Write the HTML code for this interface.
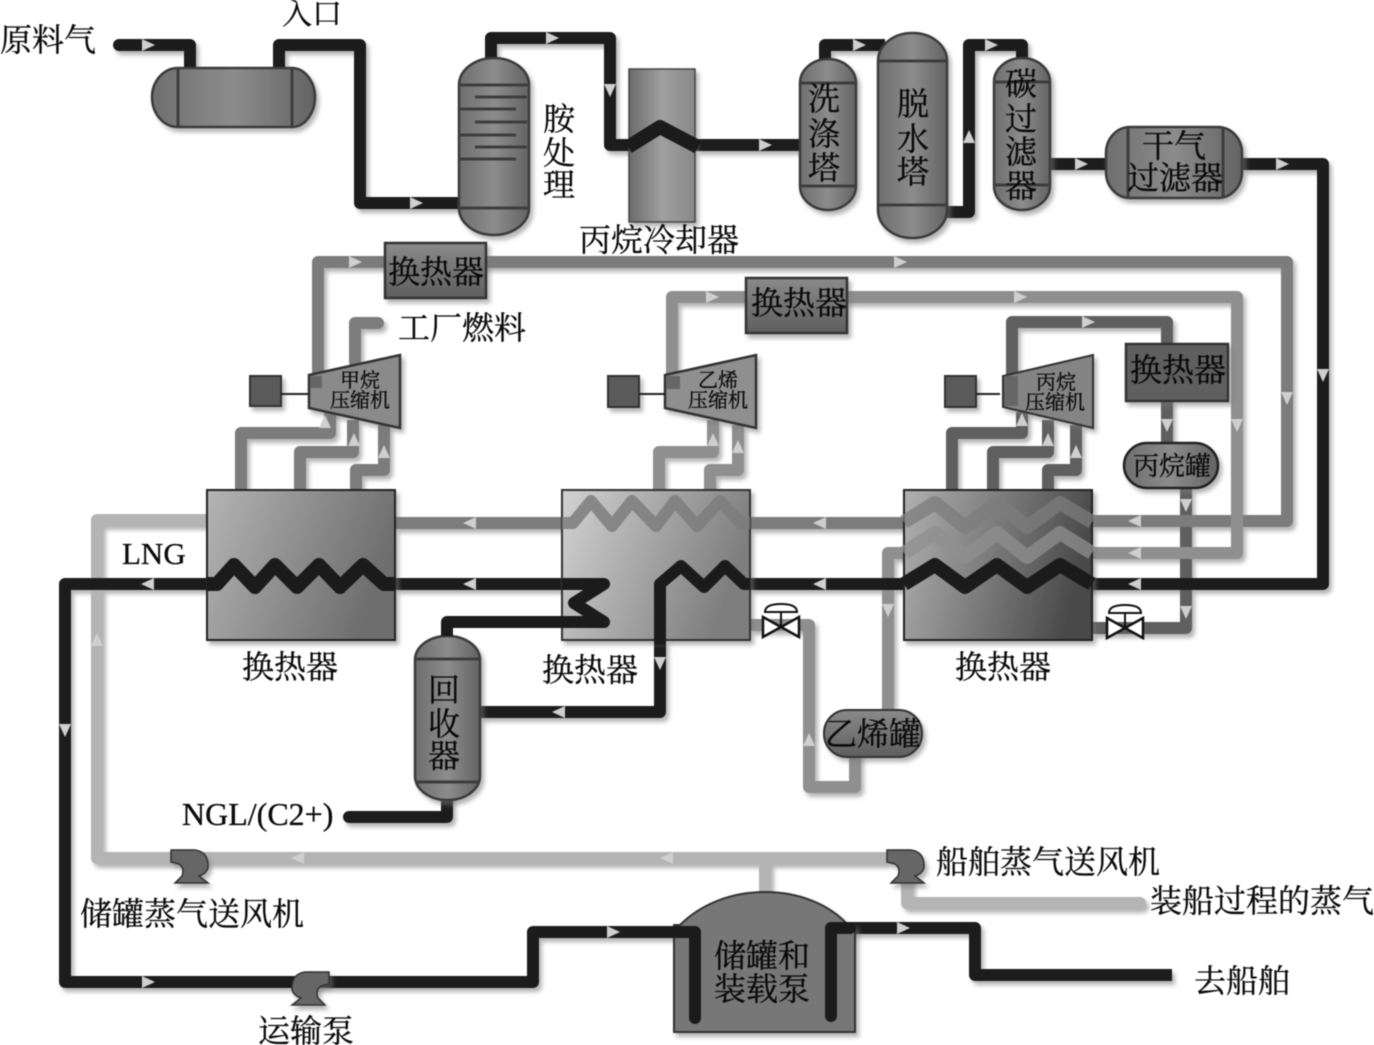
<!DOCTYPE html>
<html lang="zh"><head><meta charset="utf-8"><title>LNG</title>
<style>
html,body{margin:0;padding:0;background:#fff}
svg{display:block;filter:blur(.4px)}
.p{fill:none;stroke-linejoin:round;stroke-linecap:butt;stroke-width:12}
.k{stroke:#1b1b1b}.d{stroke:#5f5f5f}.m{stroke:#7c7c7c}.e{stroke:#8f8f8f}.l{stroke:#b4b4b4}
.r{stroke-linecap:round}
.w14{stroke-width:14}
text{font-family:"Liberation Serif","Noto Serif CJK SC",serif;fill:#0a0a0a;stroke:#000;stroke-width:.3}
.t32{font-size:32px}.t20{font-size:20px;fill:#151515;stroke-width:.15}
.v{stroke:#3a3a3a;stroke-width:2.5}
.ln{stroke:#3d3d3d;stroke-width:3;fill:none}
</style></head><body>
<svg width="1374" height="1045" viewBox="0 0 1374 1045" xmlns="http://www.w3.org/2000/svg">
<defs>
<filter id="s" x="-10%" y="-10%" width="120%" height="120%"><feDropShadow dx="3" dy="4" stdDeviation="2" flood-color="#777" flood-opacity=".55"/></filter>
<linearGradient id="gv"><stop offset="0" stop-color="#6e6e6e"/><stop offset=".5" stop-color="#8c8c8c"/><stop offset="1" stop-color="#636363"/></linearGradient>
<linearGradient id="gc"><stop offset="0" stop-color="#6a6a6a"/><stop offset=".5" stop-color="#a0a0a0"/><stop offset="1" stop-color="#888"/></linearGradient>
<linearGradient id="h1" x2="1" y2=".3"><stop offset="0" stop-color="#b4b4b4"/><stop offset="1" stop-color="#6e6e6e"/></linearGradient>
<linearGradient id="h2" x2="1" y2=".3"><stop offset="0" stop-color="#d2d2d2"/><stop offset="1" stop-color="#7e7e7e"/></linearGradient>
<linearGradient id="h3" x2="1" y2=".2"><stop offset="0" stop-color="#b0b0b0"/><stop offset="1" stop-color="#4a4a4a"/></linearGradient>
<linearGradient id="gt" x2="0" y2="1"><stop offset="0" stop-color="#8a8a8a"/><stop offset="1" stop-color="#5e5e5e"/></linearGradient>
<polygon id="a" points="-6,-6 7,0 -6,6" fill="#cfcfcf"/>
<g id="valve"><path d="M-18,-4 L18,16 V-4 L-18,16Z" fill="#fff" stroke="#111" stroke-width="2.5"/><path d="M0,-9 V6" stroke="#111" stroke-width="2"/><path d="M-16,-9 Q-16,-17 0,-17 Q16,-17 16,-9Z" fill="#fff" stroke="#111" stroke-width="2"/></g>
<path id="fan" d="M0,0 H24 Q38,2 37,18 Q35,24 28,26 L37,33 H4 L11,26 Q14,18 8,14 L0,12Z" fill="#666" stroke="#333" stroke-width="1.5"/>
</defs>

<g filter="url(#s)">
<path class="p d" d="M1186,488V628H1092"/>
<path class="p l" d="M207,520H97V858H887M765,858V895"/>
<path class="p l r" d="M907,880V903H1140"/>
<path class="p m" d="M395,523H562M750,523H904"/>
<path class="p e" d="M750,625H809V787H855V750"/>
<path class="p e" d="M888,715V553H904"/>
<path class="p m" d="M1092,521H1287V262H318V380"/>
<path class="p e" d="M1092,553H1237V297H672V380"/>
<path class="p d" d="M1012,380V322H1167V345M1167,400V445"/>
<path class="p m" d="M241,490V433H330V410M300,490V452H353V420M356,490V470H384V425"/>
<path class="p m r" d="M355,362V323H378"/>
<path class="p e" d="M659,490V452H713V420M710,490V470H738V425"/>
<path class="p d" d="M952,490V433H1022V412M993,490V452H1048V420M1048,490V470H1076V425"/>
<path class="p k r" d="M119,45H190V70"/>
<path class="p k" d="M279,70V45H360V203H462"/>
<path class="p k" d="M491,60V38H610V145H632"/>
<path class="p k" d="M696,145H803"/>
<path class="p k" d="M825,62V45H885M947,212H969V45H1022V62"/>
<path class="p k" d="M1050,164H1108M1242,164H1323V584H750"/>
<path class="p k" d="M395,584H562M207,584H65V982H533V932H690"/>
<path class="p k" d="M480,712H660V640"/>
<path class="p k r" d="M349,817H447V798"/>
<path class="p k" d="M835,928H975V975H1172"/>
</g>

<g filter="url(#s)">
<path d="M178,68H292C305,68 315,82 315,97C315,113 305,127 292,127H178C163,127 152,113 152,97C152,82 163,68 178,68Z" fill="url(#gv)" class="v"/>
<path class="ln" d="M178,68V127M292,68V127"/>
<rect x="459" y="58" width="70" height="177" rx="35" ry="27" fill="url(#gv)" class="v"/>
<rect x="629" y="69" width="66" height="153" fill="url(#gc)" stroke="#444" stroke-width="1.5"/>
<rect x="800" y="59" width="56" height="151" rx="28" ry="24" fill="url(#gv)" class="v"/>
<rect x="878" y="33" width="69" height="205" rx="34" ry="28" fill="url(#gv)" class="v"/>
<rect x="994" y="58" width="56" height="152" rx="28" ry="24" fill="url(#gv)" class="v"/>
<rect x="1106" y="127" width="136" height="71" rx="24" ry="26" fill="url(#gv)" class="v"/>
<rect x="385" y="243" width="101" height="55" fill="url(#gt)" stroke="#333" stroke-width="2.5"/>
<rect x="746" y="278" width="101" height="55" fill="url(#gt)" stroke="#333" stroke-width="2.5"/>
<rect x="1126" y="344" width="102" height="57" fill="#5f5f5f" stroke="#333" stroke-width="2.5"/>
<rect x="1124" y="443" width="94" height="45" rx="23" fill="url(#gv)" stroke="#222" stroke-width="2.5"/>
<rect x="824" y="710" width="98" height="47" rx="23" fill="url(#gt)" stroke="#333" stroke-width="2"/>
<rect x="415" y="636" width="65" height="164" rx="32" ry="24" fill="url(#gv)" class="v"/>
<rect x="207" y="490" width="188" height="150" fill="url(#h1)" stroke="#222" stroke-width="2"/>
<rect x="562" y="490" width="188" height="150" fill="url(#h2)" stroke="#333" stroke-width="2"/>
<rect x="904" y="490" width="188" height="150" fill="url(#h3)" stroke="#222" stroke-width="2"/>
<path d="M309,375L400,355V428L309,408Z" fill="#8a8a8a" stroke="#333" stroke-width="2.5"/>
<path d="M665,375L756,355V428L665,408Z" fill="#8f8f8f" stroke="#333" stroke-width="2.5"/>
<path d="M1003,376L1093,355V428L1003,407Z" fill="#848484" stroke="#333" stroke-width="2"/>
<rect x="250" y="376" width="31" height="30" fill="#5a5a5a" stroke="#333" stroke-width="2"/>
<rect x="608" y="376" width="31" height="31" fill="#5a5a5a" stroke="#333" stroke-width="2"/>
<rect x="945" y="376" width="31" height="31" fill="#5a5a5a" stroke="#333" stroke-width="2"/>
<path d="M674,925H680C700,905 730,892 765,892C800,892 830,905 848,925H855V1032H674Z" fill="#777" stroke="#333" stroke-width="2"/>
</g>
<path d="M281,394H309M639,394H665M976,394H1000" stroke="#222" stroke-width="2"/>
<path class="ln" d="M459,85H529M475,97H527M460,109H516M475,122H527M460,135H516M475,147H527M460,159H516M459,208H529"/>
<path class="ln" d="M800,83H856M800,186H856M878,61H947M878,205H947M994,82H1050M994,185H1050M1128,127V198M1223,127V198M415,659H480M415,782H480"/>
<path d="M310,376h12v12h-12z" fill="#666"/><path d="M666,376h14v13h-14z" fill="#666"/><path d="M1004,376h14v30h-14z" fill="#666"/>

<!-- coils and internals drawn over vessels -->
<path class="p k" style="stroke-width:14" d="M628,147L660,127L698,147"/>
<path class="p k w14" d="M207,584H217L234,565L255,587L275,565L297,587L319,565L340,587L363,565L384,584H395"/>
<path class="p m" style="opacity:.85" d="M562,523H573L591,501L612,526L632,501L656,526L675,501L697,526L720,501L741,523H750"/>
<path class="p k" d="M562,584H604L574,603L604,622H447V636"/>
<path class="p k" d="M660,645V584L681,566L704,587L725,566L744,584H750"/>
<path class="p m w14" style="opacity:.75" d="M904,522L935,503L965,527L997,503L1027,527L1060,503L1092,522"/>
<path class="p e w14" style="opacity:.75" d="M904,553L935,533L965,557L997,533L1027,557L1060,533L1092,553"/>
<path class="p k w14" d="M904,584L935,565L965,587L997,565L1027,587L1060,565L1092,584"/>
<path class="p k" style="stroke-linecap:round" d="M676,932H695V1018"/>
<path class="p k" style="stroke-linecap:round" d="M850,928H831V1016"/>

<use href="#valve" x="781" y="621"/>
<use href="#valve" x="1125" y="622"/>
<g filter="url(#s)">
<use href="#fan" x="171" y="850"/>
<use href="#fan" x="887" y="850"/>
<use href="#fan" transform="translate(329,972) scale(-1,1)"/>
</g>

<!-- arrows -->
<use href="#a" transform="translate(148,45)"/><use href="#a" transform="translate(416,203)"/>
<use href="#a" transform="translate(552,38)"/><use href="#a" transform="translate(610,90) rotate(90)"/>
<use href="#a" transform="translate(765,145)"/><use href="#a" transform="translate(859,45)"/>
<use href="#a" transform="translate(991,45)"/><use href="#a" transform="translate(969,137) rotate(-90)"/>
<use href="#a" transform="translate(1081,164)"/><use href="#a" transform="translate(1282,164)"/>
<use href="#a" transform="translate(1323,375) rotate(90)"/>
<use href="#a" transform="translate(355,262)"/><use href="#a" transform="translate(900,262)"/>
<use href="#a" transform="translate(712,297)"/><use href="#a" transform="translate(1020,297)"/>
<use href="#a" transform="translate(1088,322)"/>
<use href="#a" transform="translate(1287,398) rotate(90)"/><use href="#a" transform="translate(1237,425) rotate(90)"/>
<use href="#a" transform="translate(1167,425) rotate(90)"/><use href="#a" transform="translate(1186,505) rotate(90)"/>
<use href="#a" transform="translate(1186,612) rotate(90)"/>
<use href="#a" transform="translate(888,610) rotate(90)"/><use href="#a" transform="translate(809,740) rotate(-90)"/>
<use href="#a" transform="translate(660,663) rotate(90)"/><use href="#a" transform="translate(559,712) rotate(180)"/>
<use href="#a" transform="translate(1135,521) rotate(180)"/><use href="#a" transform="translate(1135,553) rotate(180)"/><use href="#a" transform="translate(1135,584) rotate(180)"/>
<use href="#a" transform="translate(820,523) rotate(180)"/><use href="#a" transform="translate(820,584) rotate(180)"/>
<use href="#a" transform="translate(470,523) rotate(180)"/><use href="#a" transform="translate(470,584) rotate(180)"/>
<use href="#a" transform="translate(148,584) rotate(180)"/>
<use href="#a" transform="translate(97,640) rotate(-90)"/><use href="#a" transform="translate(65,730) rotate(90)"/>
<use href="#a" transform="translate(148,982)"/><use href="#a" transform="translate(613,932)"/><use href="#a" transform="translate(903,928)"/>
<use href="#a" transform="translate(667,858) rotate(180)"/><use href="#a" transform="translate(298,858) rotate(180)"/>
<use href="#a" transform="translate(325,422) rotate(-90)"/><use href="#a" transform="translate(354,440) rotate(-90)"/><use href="#a" transform="translate(384,452) rotate(-90)"/>
<use href="#a" transform="translate(713,440) rotate(-90)"/><use href="#a" transform="translate(738,447) rotate(-90)"/>
<use href="#a" transform="translate(1022,420) rotate(-90)"/><use href="#a" transform="translate(1048,440) rotate(-90)"/><use href="#a" transform="translate(1076,452) rotate(-90)"/>

<!-- labels -->
<text class="t32" x="0" y="51">原料气</text>
<text x="282" y="24" font-size="30">入口</text>
<g class="t32" text-anchor="middle">
<text x="559" y="130">胺</text><text x="559" y="164">处</text><text x="559" y="196">理</text>
<text x="824" y="110">洗</text><text x="824" y="145">涤</text><text x="824" y="179">塔</text>
<text x="913" y="115">脱</text><text x="913" y="150">水</text><text x="913" y="183">塔</text>
<text x="1021" y="95">碳</text><text x="1021" y="130">过</text><text x="1021" y="163">滤</text><text x="1021" y="197">器</text>
<text x="1174" y="157">干气</text><text x="1175" y="189">过滤器</text>
<text x="436" y="283">换热器</text><text x="799" y="314">换热器</text><text x="1178" y="381">换热器</text>
<text x="1172" y="475" style="font-size:26px">丙烷罐</text>
<text x="873" y="745">乙烯罐</text>
<text x="444" y="701">回</text><text x="444" y="735">收</text><text x="444" y="767">器</text>
<text x="290" y="678">换热器</text><text x="590" y="681">换热器</text><text x="1003" y="678">换热器</text>
<text x="659" y="251">丙烷冷却器</text>
<text x="762" y="967">储罐和</text><text x="762" y="1000">装载泵</text>
</g>
<text class="t32" x="398" y="339">工厂燃料</text>
<text x="122" y="564" font-size="31">LNG</text>
<text x="182" y="825" font-size="32">NGL/(C2+)</text>
<text class="t32" x="80" y="925">储罐蒸气送风机</text>
<text class="t32" x="258" y="1042">运输泵</text>
<text class="t32" x="936" y="873">船舶蒸气送风机</text>
<text class="t32" x="1150" y="912">装船过程的蒸气</text>
<text class="t32" x="1194" y="992">去船舶</text>
<g class="t20" text-anchor="middle">
<text x="360" y="387">甲烷</text><text x="360" y="407">压缩机</text>
<text x="718" y="387">乙烯</text><text x="718" y="407">压缩机</text>
<text x="1056" y="389">丙烷</text><text x="1055" y="409">压缩机</text>
</g>
</svg>
</body></html>
